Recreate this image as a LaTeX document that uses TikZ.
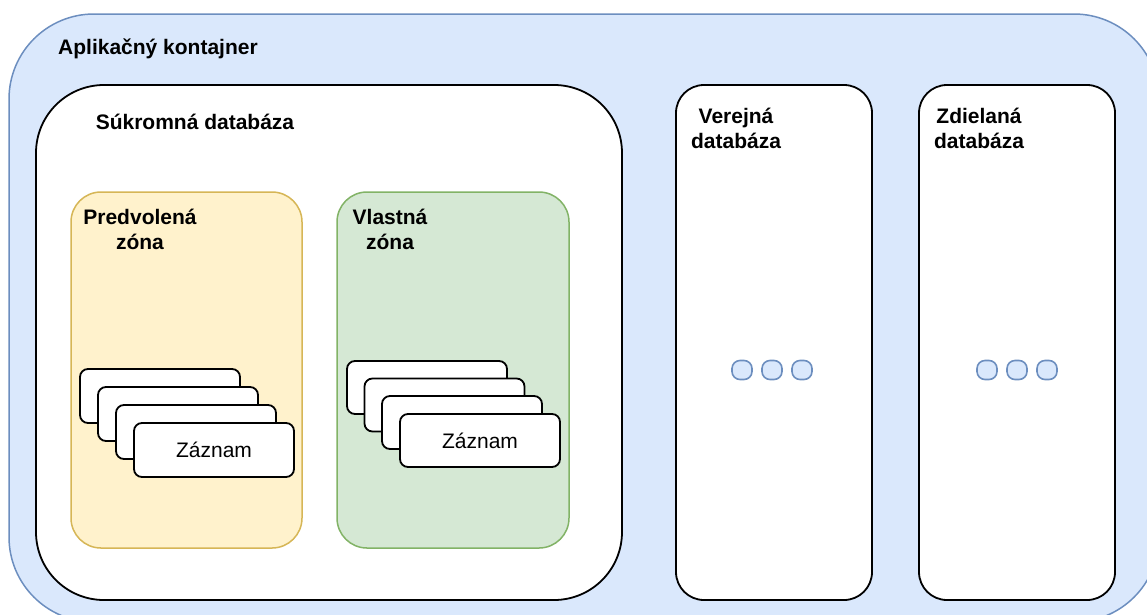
\documentclass[tikz,border=0pt]{standalone}
\usepackage{fontspec}
\setmainfont{Liberation Sans}
\definecolor{bluefill}{HTML}{DAE8FC}
\definecolor{bluestroke}{HTML}{6C8EBF}
\definecolor{yelfill}{HTML}{FFF2CC}
\definecolor{yelstroke}{HTML}{D6B656}
\definecolor{grnfill}{HTML}{D5E8D4}
\definecolor{grnstroke}{HTML}{82B366}
\tikzset{
  box/.style={rectangle, anchor=north west, inner sep=0pt, outer sep=0pt},
  dbbox/.style={box, draw=black, fill=white, line width=1.8pt},
  zone/.style={box, line width=1.5pt, rounded corners=30pt},
  card/.style={box, draw=black, fill=white, line width=1.8pt, rounded corners=8pt,
    minimum width=160pt, minimum height=54pt},
  lbl/.style={font=\fontsize{21}{25}\selectfont\bfseries, align=center, inner sep=0pt},
  cardtxt/.style={font=\fontsize{21}{25}\selectfont, inner sep=0pt},
  dot/.style={rectangle, draw=bluestroke, fill=bluefill, line width=1.6pt, rounded corners=8pt,
    minimum width=20pt, minimum height=19pt, inner sep=0pt}
}
\begin{document}
\begin{tikzpicture}[x=1pt,y=-1pt]
\useasboundingbox (0,0) rectangle (1147,614);
\clip (0,0) rectangle (1147,614);
% outer container
\node[box, draw=bluestroke, fill=bluefill, line width=1.5pt, rounded corners=85pt,
  minimum width=1150pt, minimum height=608pt] (app) at (9,14) {};
\node[lbl] (applbl) at (158,49) {Aplikačný kontajner};
% private database
\node[dbbox, rounded corners=68pt, minimum width=586pt, minimum height=515pt] (priv) at (36,85) {};
\node[lbl] (privlbl) at (195,122) {Súkromná databáza};
% default zone
\node[zone, draw=yelstroke, fill=yelfill, minimum width=231pt, minimum height=356pt] (defz) at (71,192) {};
\node[lbl] (defzlbl) at (140,229) {Predvolená\\zóna};
% own zone
\node[zone, draw=grnstroke, fill=grnfill, minimum width=232pt, minimum height=356pt] (ownz) at (337,192) {};
\node[lbl] (ownzlbl) at (390,229) {Vlastná\\zóna};
% cards in default zone
\node[card] (dc1) at (80,369) {};
\node[card] (dc2) at (98,387) {};
\node[card] (dc3) at (116,405) {};
\node[card] (dc4) at (134,423) {};
\node[cardtxt] (dc4t) at (dc4.center) {Záznam};
% cards in own zone
\node[card, minimum height=53pt] (oc1) at (347,361) {};
\node[card, minimum height=53pt] (oc2) at (364.5,378.5) {};
\node[card, minimum height=53pt] (oc3) at (382,396) {};
\node[card, minimum height=53pt] (oc4) at (400,414) {};
\node[cardtxt] (oc4t) at (oc4.center) {Záznam};
% public database
\node[dbbox, rounded corners=28pt, minimum width=196pt, minimum height=515pt] (pub) at (676,85) {};
\node[lbl] (publbl) at (736,128) {Verejná\\databáza};
\node[dot] (pd1) at (742,370) {};
\node[dot] (pd2) at (772,370) {};
\node[dot] (pd3) at (802,370) {};
% shared database
\node[dbbox, rounded corners=28pt, minimum width=196pt, minimum height=515pt] (shr) at (919,85) {};
\node[lbl] (shrlbl) at (979,128) {Zdielaná\\databáza};
\node[dot] (sd1) at (987,370) {};
\node[dot] (sd2) at (1017,370) {};
\node[dot] (sd3) at (1047,370) {};
\end{tikzpicture}
\end{document}
